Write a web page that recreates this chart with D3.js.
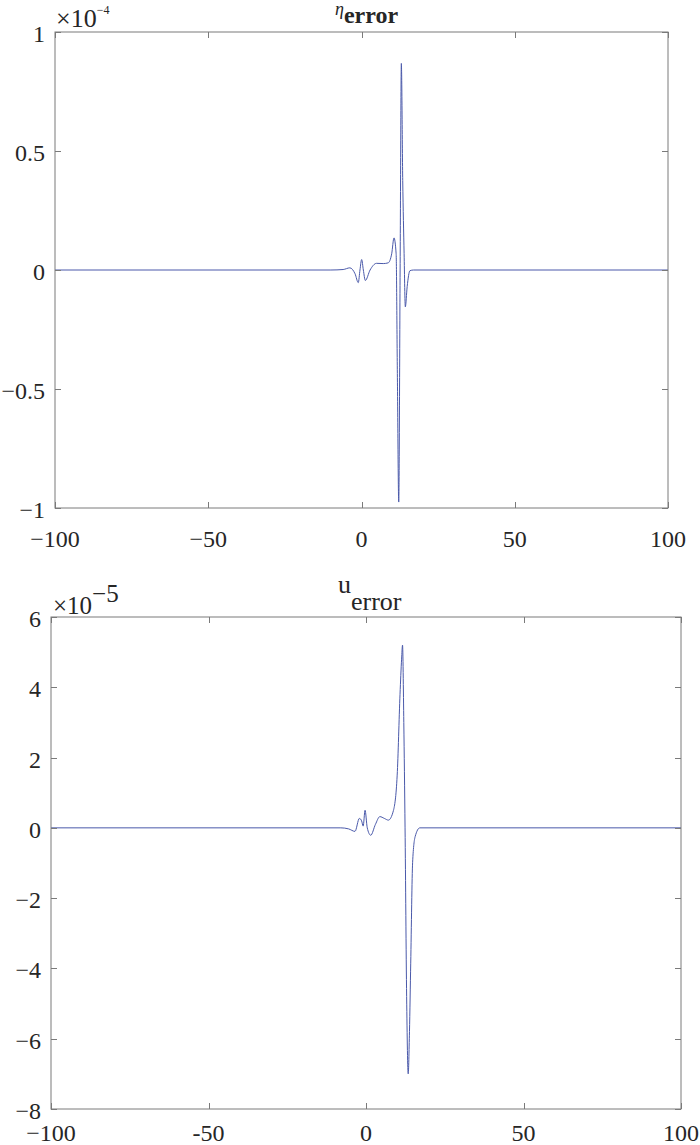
<!DOCTYPE html>
<html><head><meta charset="utf-8">
<script src="https://cdn.jsdelivr.net/npm/d3@7"></script>
<style>body{margin:0;background:#fff}svg{display:block}text{font-family:"Liberation Serif","Times New Roman",serif;fill:#262626}</style>
</head><body>
<svg id="c" width="700" height="1145"></svg>
<script>
// ---- data ----
const xTicks = [-100, -50, 0, 50, 100];
const xTickLabelsTop = ["\u2212100", "\u221250", "0", "50", "100"];
const xTickLabelsBottom = ["\u2212100", "-50", "0", "50", "100"];
const etaTicks = [-1, -0.5, 0, 0.5, 1];
const etaTickLabels = ["\u22121", "\u22120.5", "0", "0.5", "1"];
const uTicks = [-8, -6, -4, -2, 0, 2, 4, 6];
const uTickLabels = ["\u22128", "\u22126", "\u22124", "\u22122", "0", "2", "4", "6"];

// eta error (x 1e-4)
const etaX = [-100, -10, -6, -3.8, -2.1, -1.05, -0.5, 0.05, 0.6, 1.25, 2.8, 4.9, 7.1, 8.7, 9.85, 10.6, 11.3, 11.7, 12.15, 12.6, 13.0, 13.45, 13.9, 14.3, 14.9, 15.8, 17, 100];
const etaY = [0, 0, 0.002, 0.009, -0.016, -0.053, 0.0, 0.044, 0.0, -0.044, 0.0, 0.028, 0.027, 0.03, 0.068, 0.135, 0.068, -0.435, -0.975, 0.0, 0.868, 0.376, 0.07, -0.155, -0.07, -0.003, 0, 0];

// u error (x 1e-5)
const uX = [-100, -8, -5.5, -3.5, -2.1, -1.4, -0.9, -0.3, 0.4, 1.5, 3, 4.4, 5.8, 7.1, 8.7, 9.9, 10.8, 11.3, 11.6, 12.0, 12.4, 12.9, 13.4, 13.8, 14.2, 14.8, 15.6, 17.1, 100];
const uY = [0, 0, -0.03, -0.1, 0.27, 0.2, 0.05, 0.5, 0.0, -0.21, 0.1, 0.32, 0.27, 0.22, 0.49, 1.5, 3.8, 4.8, 5.2, 3.0, 0.0, -4.8, -7.0, -5.8, -3.85, -0.98, -0.25, 0, 0];

const svg = d3.select("#c");
const axisColor = "#7a7a7a";
const lineColor = "#4a59aa";

function panel(opts) {
  const {left, right, top, bottom, yDomain, yTicks, yLabels, xLabels, xs, ys, xLabelOffset} = opts;
  const x = d3.scaleLinear().domain([-100, 100]).range([left, right]);
  const y = d3.scaleLinear().domain(yDomain).range([bottom, top]);
  const g = svg.append("g");

  const line = d3.line().x((d, i) => x(xs[i])).y((d, i) => y(ys[i])).curve(d3.curveMonotoneX);
  g.append("path").datum(xs).attr("d", line).attr("fill", "none")
    .attr("stroke", lineColor).attr("stroke-width", 1);

  g.append("rect").attr("x", left).attr("y", top).attr("width", right - left).attr("height", bottom - top)
    .attr("fill", "none").attr("stroke", axisColor).attr("stroke-width", 1);

  const tl = 6;
  xTicks.forEach((t, i) => {
    const px = Math.round(x(t)) + 0.5;
    g.append("line").attr("x1", px).attr("x2", px).attr("y1", bottom).attr("y2", bottom - tl).attr("stroke", axisColor);
    g.append("line").attr("x1", px).attr("x2", px).attr("y1", top).attr("y2", top + tl).attr("stroke", axisColor);
    g.append("text").attr("x", x(t)).attr("y", bottom + xLabelOffset).attr("text-anchor", "middle")
      .attr("font-size", 24).text(xLabels[i]);
  });
  yTicks.forEach((t, i) => {
    const py = Math.round(y(t)) + 0.5;
    g.append("line").attr("x1", left).attr("x2", left + tl).attr("y1", py).attr("y2", py).attr("stroke", axisColor);
    g.append("line").attr("x1", right).attr("x2", right - tl).attr("y1", py).attr("y2", py).attr("stroke", axisColor);
    g.append("text").attr("x", left - 10).attr("y", y(t) + 10).attr("text-anchor", "end")
      .attr("font-size", 24).text(yLabels[i]);
  });
  return {x, y, g};
}

// top panel
const p1 = panel({left: 55, right: 668, top: 32, bottom: 508, yDomain: [-1, 1], xLabelOffset: 39,
  yTicks: etaTicks, yLabels: etaTickLabels, xLabels: xTickLabelsTop, xs: etaX, ys: etaY});
const e1 = p1.g.append("text").attr("x", 56).attr("y", 27).attr("font-size", 26);
e1.append("tspan").text("\u00d710");
e1.append("tspan").attr("font-size", 12).attr("dy", -13).text("\u22124");
const t1 = p1.g.append("text").attr("x", 335).attr("y", 15).attr("font-size", 18);
t1.append("tspan").attr("font-style", "italic").text("\u03b7");
t1.append("tspan").attr("dy", 8).attr("font-weight", "bold").attr("font-size", 24).text("error");

// bottom panel
const p2 = panel({left: 51, right: 681, top: 617, bottom: 1109, yDomain: [-8, 6], xLabelOffset: 32,
  yTicks: uTicks, yLabels: uTickLabels, xLabels: xTickLabelsBottom, xs: uX, ys: uY});
const e2 = p2.g.append("text").attr("x", 53).attr("y", 614).attr("font-size", 25);
e2.append("tspan").text("\u00d710");
e2.append("tspan").attr("font-size", 25).attr("dy", -12).text("\u22125");
const t2 = p2.g.append("text").attr("x", 338).attr("y", 593).attr("font-size", 26);
t2.append("tspan").text("u");
t2.append("tspan").attr("dy", 17).text("error");
</script>
</body></html>
